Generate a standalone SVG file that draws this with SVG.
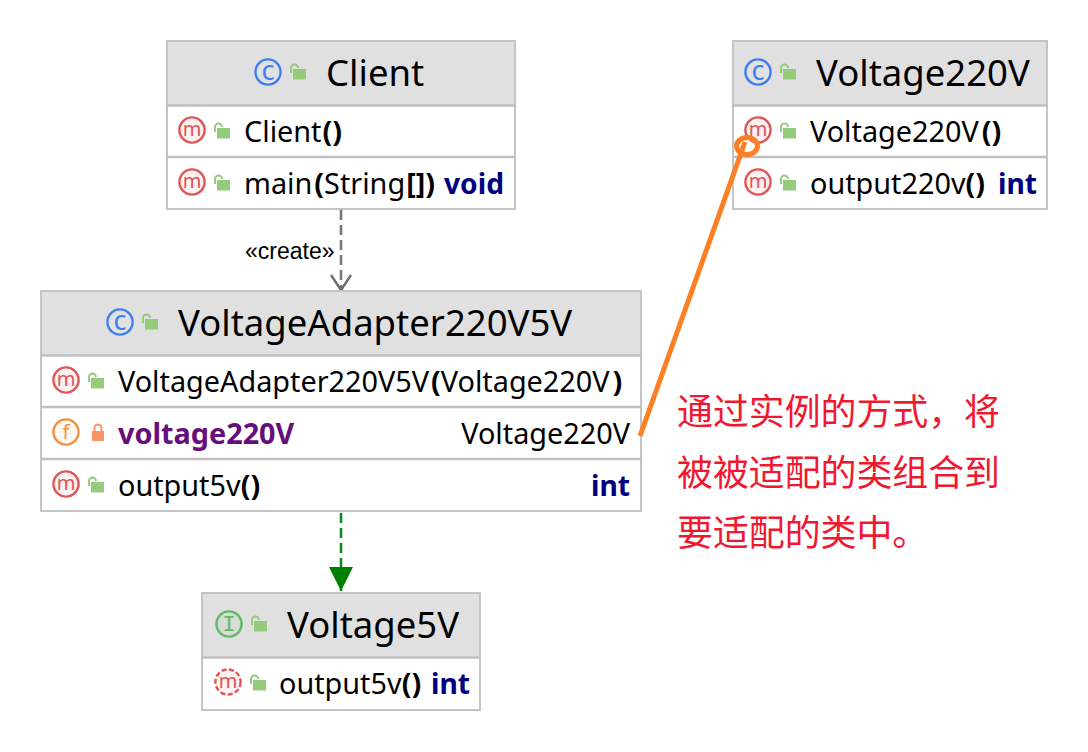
<svg xmlns="http://www.w3.org/2000/svg" width="1088" height="752" viewBox="0 0 1088 752">
<style>
text{font-family:"Noto Sans","Noto Sans CJK SC",sans-serif;fill:#000}
.box{fill:#fff;stroke:#c4c4c4;stroke-width:2}
.head{fill:#e0e0e0}
.sep{stroke:#c0c0c0;stroke-width:2.5;fill:none}
.title{font-size:36.500px}
.row{font-size:28.800px}
.b{font-weight:700}
.kw{font-weight:700;fill:#000080;font-size:28.200px}
.fld{font-weight:700;fill:#660e7a}
.ring{stroke-width:2.4;fill-opacity:.08}
.ic{font-size:20px;text-anchor:middle}
.lk{fill:#94cc7c}
.lks{fill:none;stroke:#94cc7c;stroke-width:2}
.note{font-size:35.900px;fill:#f01830}
</style>
<defs>
<g id="open"><rect class="lk" x="-5" y="-3" width="13" height="10.500"/><path class="lks" d="M-7 1V-4a3.500 3.500 0 0 1 7 0"/></g>
<g id="closed"><rect x="-6" y="-2" width="12" height="10" fill="#f79569"/><path d="M-3.500 -2V-5a3.500 3.500 0 0 1 7 0V-2" fill="none" stroke="#f79569" stroke-width="2"/></g>
<g id="cls"><circle class="ring" r="12.600" fill="#eef4ff" stroke="#3f7ef0"/><text class="ic" y="7.500" style="fill:#3f7ef0;font-size:27px">c</text></g>
<g id="mth"><circle class="ring" r="12.600" fill="#f5505a" stroke="#e05555"/><text class="ic" y="6" style="fill:#e05555">m</text></g>
<g id="fld"><circle class="ring" r="12.600" fill="#f78c2f" stroke="#f09040"/><text class="ic" y="7" style="fill:#f09040">f</text></g>
<g id="itf"><circle class="ring" r="12.600" fill="#6cc070" stroke="#62b868"/><text class="ic" y="7" style="fill:#62b868;font-family:'Liberation Mono',monospace;font-size:22px">I</text></g>
<g id="abs"><circle class="ring" r="12.600" fill="#f5505a" stroke="#e05555" stroke-dasharray="5 2.500"/><text class="ic" y="6" style="fill:#e05555">m</text></g>
<marker id="open-arrow" markerUnits="userSpaceOnUse" markerWidth="24" markerHeight="26" refX="16" refY="13" orient="auto"><path d="M1 3L16 13L1 23" fill="none" stroke="#6e6e6e" stroke-width="2.400"/></marker>
<marker id="solid-arrow" markerUnits="userSpaceOnUse" markerWidth="24" markerHeight="24" refX="24" refY="12" orient="auto"><path d="M0 0L24 12L0 24Z" fill="#008000"/></marker>
</defs>

<g id="connectors">
<path id="create" d="M341 210V290" fill="none" stroke="#777" stroke-width="2.600" stroke-dasharray="10 5" marker-end="url(#open-arrow)"/>
<text x="245" y="259" style="font-family:'Liberation Sans',sans-serif;font-size:23px">«create»</text>
<path id="implements" d="M341 513V591" fill="none" stroke="#0f8a1e" stroke-width="2.600" stroke-dasharray="10 5" marker-end="url(#solid-arrow)"/>
</g>

<g id="Client">
<rect class="box" x="167" y="41" width="348" height="168"/>
<rect class="head" x="168" y="42" width="346" height="63"/>
<path class="sep" d="M167 105.500H515M167 157H515"/>
<use href="#cls" x="268" y="72"/><use href="#open" x="298" y="72"/>
<text class="title" x="326" y="86">Client</text>
<use href="#mth" x="192" y="130"/><use href="#open" x="222" y="131"/>
<text class="row" x="244" y="142">Client<tspan class="b" dx="1">()</tspan></text>
<use href="#mth" x="192" y="182"/><use href="#open" x="222" y="183"/>
<text class="row" x="244" y="194">main<tspan class="b" dx="2">(</tspan>String<tspan class="b" dx="1">[])</tspan><tspan class="kw" x="444">void</tspan></text>
</g>

<g id="Voltage220V">
<rect class="box" x="733" y="41" width="314" height="168"/>
<rect class="head" x="734" y="42" width="312" height="63"/>
<path class="sep" d="M733 105.500H1047M733 157H1047"/>
<use href="#cls" x="758" y="72"/><use href="#open" x="788" y="72"/>
<text class="title" x="816" y="86">Voltage220V</text>
<use href="#mth" x="758" y="130"/><use href="#open" x="788" y="131"/>
<text class="row" x="810" y="142">Voltage220V<tspan class="b" dx="3">()</tspan></text>
<use href="#mth" x="758" y="182"/><use href="#open" x="788" y="183"/>
<text class="row" x="810" y="194">output220v<tspan class="b">()</tspan><tspan class="kw" x="998">int</tspan></text>
</g>

<g id="VoltageAdapter220V5V">
<rect class="box" x="41" y="291" width="600" height="220"/>
<rect class="head" x="42" y="292" width="598" height="63"/>
<path class="sep" d="M41 355.500H641M41 407H641M41 459H641"/>
<use href="#cls" x="120" y="322"/><use href="#open" x="150" y="322"/>
<text class="title" x="178" y="336">VoltageAdapter220V5V</text>
<use href="#mth" x="66" y="380"/><use href="#open" x="96" y="381"/>
<text class="row" x="118" y="392">VoltageAdapter220V5V<tspan class="b" dx="2">(</tspan>Voltage220V<tspan class="b" dx="3">)</tspan></text>
<use href="#fld" x="66" y="432"/><use href="#closed" x="98" y="433"/>
<text class="row fld" x="118" y="444">voltage220V</text>
<text class="row" x="630" y="444" text-anchor="end">Voltage220V</text>
<use href="#mth" x="66" y="484"/><use href="#open" x="96" y="485"/>
<text class="row" x="118" y="496">output5v<tspan class="b">()</tspan></text>
<text class="row kw" x="630" y="496" text-anchor="end">int</text>
</g>

<g id="Voltage5V">
<rect class="box" x="202" y="593" width="278" height="117"/>
<rect class="head" x="203" y="594" width="276" height="63"/>
<path class="sep" d="M202 657.500H480"/>
<use href="#itf" x="229" y="624"/><use href="#open" x="259" y="624"/>
<text class="title" x="287" y="638">Voltage5V</text>
<use href="#abs" x="228" y="682"/><use href="#open" x="258" y="683"/>
<text class="row" x="279" y="694">output5v<tspan class="b">()</tspan><tspan class="kw" x="431">int</tspan></text>
</g>

<g id="annotation">
<path d="M640 436L745 142" fill="none" stroke="#fd7f23" stroke-width="5"/>
<ellipse cx="747" cy="146" rx="10.500" ry="8.500" fill="none" stroke="#fd7f23" stroke-width="5"/>
<text class="note" x="677" y="425">通过实例的方式，将</text>
<text class="note" x="677" y="486">被被适配的类组合到</text>
<text class="note" x="677" y="546">要适配的类中。</text>
</g>
</svg>
